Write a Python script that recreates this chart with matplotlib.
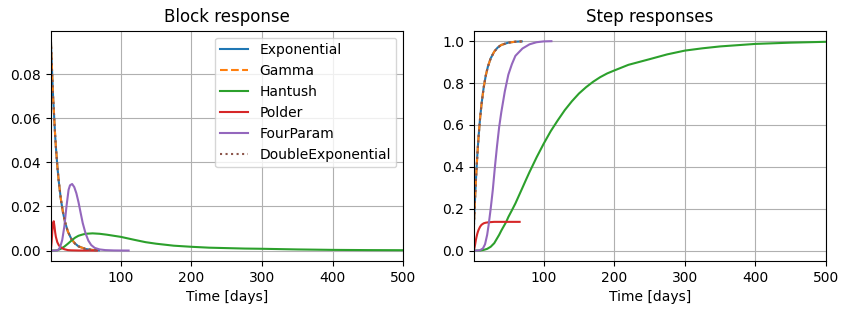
#!/usr/bin/env python3
"""Block and step responses of the response functions, side by side."""
import matplotlib
matplotlib.use("Agg")
import matplotlib.pyplot as plt

# Exponential / Gamma / DoubleExponential overlap in the picture
t_exp = [1, 2, 3, 4, 5, 6, 7, 8, 10, 12, 15, 18, 21, 25, 30, 35, 40, 50, 60, 69]
block_exp = [0.095, 0.086, 0.078, 0.070, 0.064, 0.058, 0.052, 0.047, 0.0386, 0.0316,
             0.0234, 0.0174, 0.0129, 0.0086, 0.0052, 0.0032, 0.0019, 0.0007, 0.00026, 0.0001]
step_exp = [0.095, 0.181, 0.259, 0.330, 0.393, 0.451, 0.503, 0.551, 0.632, 0.699,
            0.777, 0.835, 0.878, 0.918, 0.950, 0.970, 0.982, 0.993, 0.9975, 0.999]

t_hant_b = [1, 5, 10, 15, 20, 25, 30, 35, 40, 45, 50, 55, 60, 65, 70, 80, 90, 100, 110,
            120, 135, 150, 175, 200, 225, 250, 275, 300, 350, 400, 450, 500]
block_hant = [0, 0, 0.0001, 0.0008, 0.0018, 0.0031, 0.0045, 0.0058, 0.0067, 0.0072,
              0.0076, 0.0077, 0.0078, 0.0077, 0.0076, 0.0072, 0.0067, 0.0062, 0.0055,
              0.0048, 0.0038, 0.0031, 0.0022, 0.0017, 0.0013, 0.0011, 0.0009, 0.0008,
              0.0005, 0.0003, 0.0002, 0.00015]
t_hant_s = [1, 10, 15, 20, 25, 30, 37, 40, 47, 50, 55, 60, 70, 75, 80, 90, 100, 110,
            120, 130, 140, 150, 160, 170, 180, 190, 200, 220, 250, 275, 300, 325, 350,
            400, 450, 500]
step_hant = [0, 0, 0.003, 0.008, 0.018, 0.035, 0.075, 0.095, 0.137, 0.16, 0.192, 0.225,
             0.30, 0.338, 0.375, 0.445, 0.51, 0.57, 0.622, 0.671, 0.713, 0.750, 0.780,
             0.806, 0.828, 0.846, 0.860, 0.887, 0.914, 0.937, 0.955, 0.966, 0.975,
             0.987, 0.993, 0.997]

t_pold_b = [1, 2, 3, 4, 5, 6, 7, 8, 10, 12, 14, 17, 20, 25, 30, 40, 50, 66]
block_pold = [0.0005, 0.004, 0.009, 0.0125, 0.0133, 0.011, 0.0082, 0.0062, 0.0038,
              0.0025, 0.0017, 0.0010, 0.0006, 0.0002, 0.0001, 0.00002, 0, 0]
t_pold_s = [1, 2, 3, 4, 5, 6, 7, 8, 10, 12, 15, 18, 22, 26, 30, 40, 50, 66]
step_pold = [0.002, 0.012, 0.03, 0.05, 0.066, 0.08, 0.091, 0.1, 0.114, 0.123, 0.13,
             0.133, 0.135, 0.136, 0.137, 0.137, 0.137, 0.137]

t_four_b = [1, 5, 8, 11, 14, 17, 20, 23, 26, 28, 31, 34, 37, 40, 43, 46, 50, 54, 58,
            63, 70, 78, 90, 100, 111]
block_four = [0, 0, 0, 0.0002, 0.0015, 0.0048, 0.011, 0.020, 0.0276, 0.0296, 0.0302,
              0.0288, 0.026, 0.022, 0.0172, 0.0125, 0.0078, 0.0045, 0.0025, 0.0012,
              0.0005, 0.0002, 0.00005, 0.00002, 0]
t_four_s = [1, 5, 8, 10, 14, 17, 20, 22, 25, 28, 31, 34, 37, 40, 45, 50, 55, 60, 70,
            80, 90, 100, 111]
step_four = [0, 0, 0.0005, 0.002, 0.01, 0.03, 0.075, 0.12, 0.2, 0.29, 0.4, 0.5, 0.59,
             0.66, 0.76, 0.84, 0.89, 0.93, 0.965, 0.985, 0.995, 0.999, 1.0]

fig, (ax1, ax2) = plt.subplots(1, 2, figsize=(8.49, 3.15), dpi=100)
fig.subplots_adjust(left=0.060, right=0.973, top=0.9025, bottom=0.1714, wspace=0.2)

ax1.plot(t_exp, block_exp, label="Exponential")
ax1.plot(t_exp, block_exp, "--", label="Gamma")
ax1.plot(t_hant_b, block_hant, label="Hantush")
ax1.plot(t_pold_b, block_pold, label="Polder")
ax1.plot(t_four_b, block_four, label="FourParam")
ax1.plot(t_exp, block_exp, ":", label="DoubleExponential")
ax1.set_title("Block response")
ax1.legend(loc="upper right")

ax2.plot(t_exp, step_exp)
ax2.plot(t_exp, step_exp, "--")
ax2.plot(t_hant_s, step_hant)
ax2.plot(t_pold_s, step_pold)
ax2.plot(t_four_s, step_four)
ax2.plot(t_exp, step_exp, ":")
ax2.set_title("Step responses")

for ax in (ax1, ax2):
    ax.set_xlim(1, 500)
    ax.set_xlabel("Time [days]")
    ax.grid(True)

plt.savefig("out.png", dpi=100)
